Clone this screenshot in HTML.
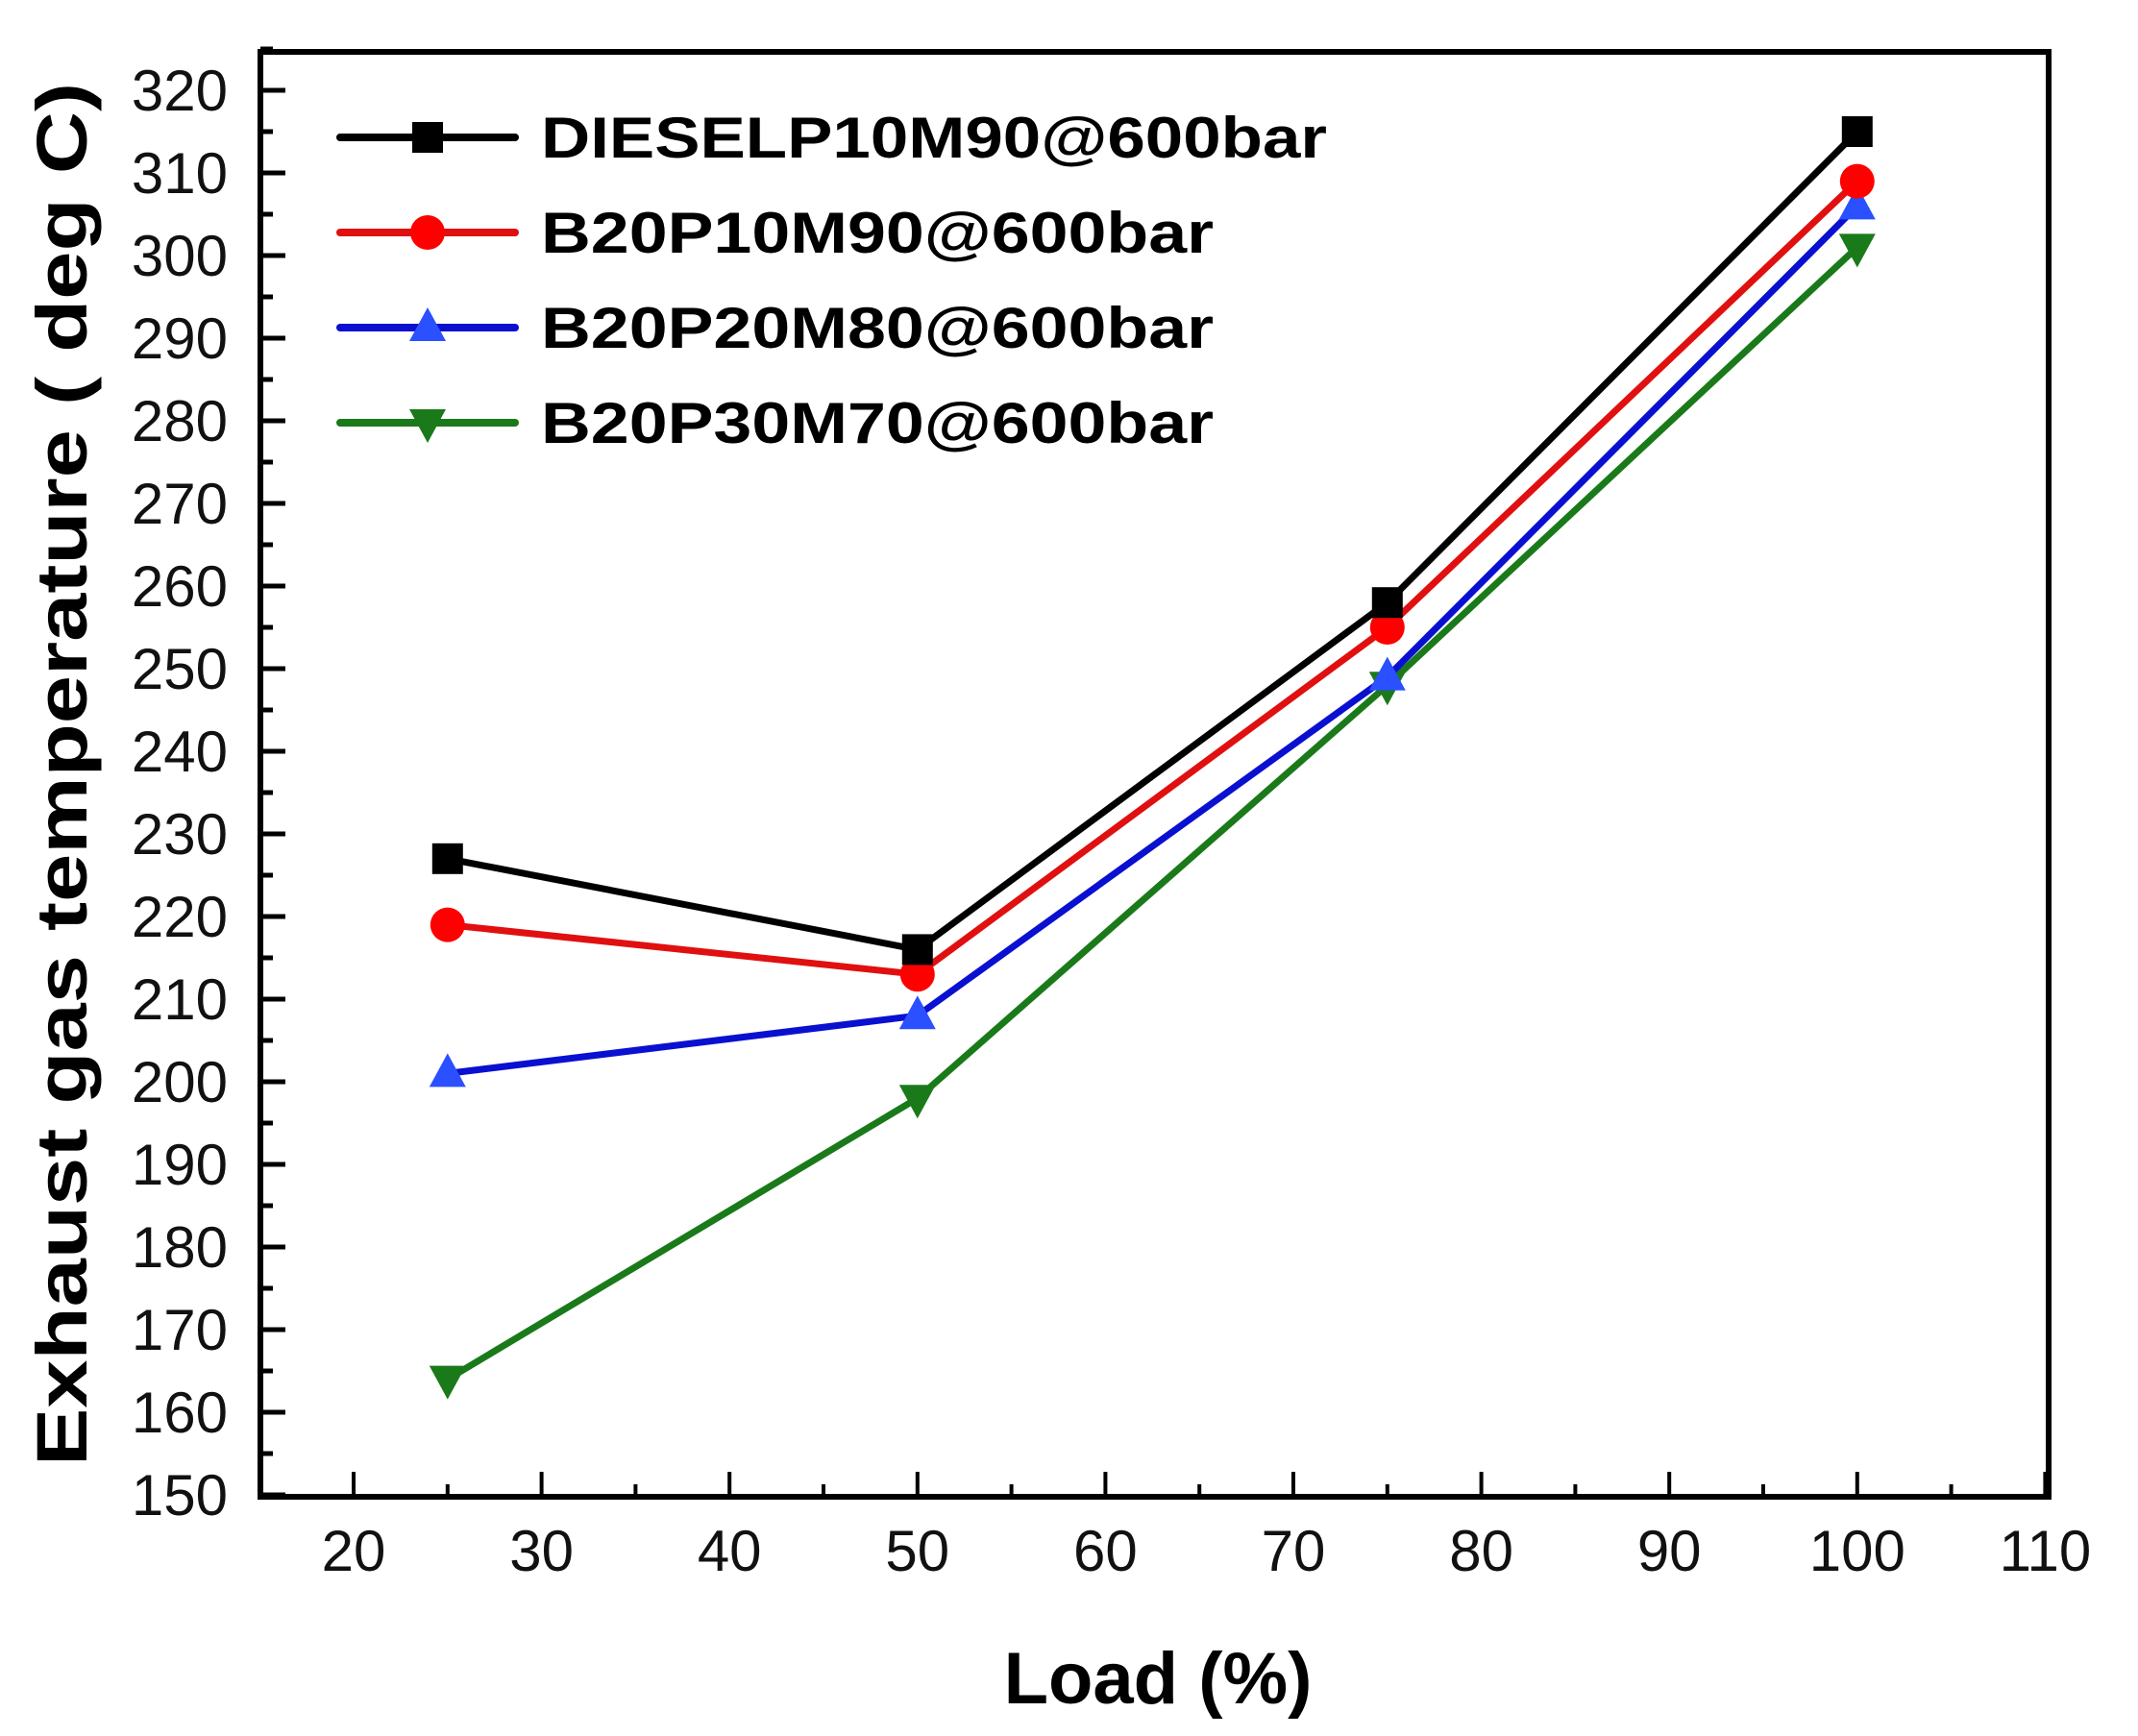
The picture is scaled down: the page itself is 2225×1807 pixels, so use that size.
<!DOCTYPE html>
<html><head><meta charset="utf-8"><style>
html,body{margin:0;padding:0;background:#fff}
svg{display:block}
text{font-family:"Liberation Sans",Arial,sans-serif}
</style></head><body>
<svg id="chart" width="2225" height="1807" viewBox="0 0 2225 1807" xmlns="http://www.w3.org/2000/svg">
</svg>
<script>
const categories = [25, 50, 75, 100];
const dieselValues = [227, 216, 258, 315];
const b20p10Values = [219, 213, 255, 309];
const b20p20Values = [201, 208, 249, 306];
const b20p30Values = [164, 198, 248, 301];
const seriesNames = ["DIESELP10M90@600bar","B20P10M90@600bar","B20P20M80@600bar","B20P30M70@600bar"];
const xTickLabels = [20,30,40,50,60,70,80,90,100,110];
const yTickLabels = [150,160,170,180,190,200,210,220,230,240,250,260,270,280,290,300,310,320];

const NS="http://www.w3.org/2000/svg";
const svg=document.getElementById('chart');
const L=271,R=2132,T=54,B=1558;
const xs=v=>368+(v-20)*19.56;
const ys=v=>94+(320-v)*8.6;
function mk(tag,attrs,parent){const e=document.createElementNS(NS,tag);for(const k in attrs)e.setAttribute(k,attrs[k]);(parent||svg).appendChild(e);return e;}

const frame=mk('rect',{x:L,y:T,width:R-L,height:B-T,fill:'none',stroke:'#000','stroke-width':6});



for(let v=150;v<=325;v+=5){
  const major=v%10===0;
  const t=mk('line',{x1:L,x2:L+(major?26:13),y1:ys(v),y2:ys(v),stroke:'#000','stroke-width':5});
  
  
}
yTickLabels.forEach(v=>{
  const t=mk('text',{x:237,y:ys(v)+21,'text-anchor':'end','font-size':60,fill:'#111'});
  t.textContent=v;
  
  
});
for(let v=15;v<=110;v+=5){
  const major=v%10===0;
  const t=mk('line',{x1:xs(v),x2:xs(v),y1:B,y2:B-(major?26:13),stroke:'#000','stroke-width':4});
  
  
}
xTickLabels.forEach(v=>{
  const t=mk('text',{x:xs(v),y:1635,'text-anchor':'middle','font-size':60,fill:'#111'});
  t.textContent=v;
  
  
});
const xt=mk('text',{x:1205,y:1773,'text-anchor':'middle','font-size':76,'font-weight':'bold',fill:'#000'});
xt.textContent='Load (%)';


const yt=mk('text',{x:0,y:0,'text-anchor':'middle','font-size':74,'font-weight':'bold',fill:'#000',transform:'translate(90,806) rotate(-90)',textLength:1440,lengthAdjust:'spacingAndGlyphs'});
yt.textContent='Exhaust gas temperature ( deg C)';



function marker(type,cx,cy,color,parent){
  let m;
  if(type==='square') m=mk('rect',{x:cx-16,y:cy-16,width:32,height:32,fill:color},parent);
  else if(type==='circle') m=mk('circle',{cx:cx,cy:cy,r:18,fill:color},parent);
  else if(type==='up') m=mk('polygon',{points:`${cx},${cy-21} ${cx-19},${cy+14} ${cx+19},${cy+14}`,fill:color},parent);
  else m=mk('polygon',{points:`${cx},${cy+21} ${cx-19},${cy-14} ${cx+19},${cy-14}`,fill:color},parent);
  return m;
}
const series=[
 {vals:dieselValues,color:'#000000',mcolor:'#000000',m:'square',key:'diesel'},
 {vals:b20p10Values,color:'#e01010',mcolor:'#ff0000',m:'circle',key:'b20p10m90'},
 {vals:b20p20Values,color:'#0a10d0',mcolor:'#2a50ff',m:'up',key:'b20p20m80'},
 {vals:b20p30Values,color:'#1a7a1a',mcolor:'#1a7a1a',m:'down',key:'b20p30m70'}
];
series.slice().reverse().forEach(s=>{
  const g=mk('g',{});
  
  
  const pts=categories.map((c,i)=>xs(c)+','+ys(s.vals[i])).join(' ');
  const pl=mk('polyline',{points:pts,fill:'none',stroke:s.color,'stroke-width':7,'stroke-linejoin':'round'},g);
  
  
  categories.forEach((c,i)=>{
    const m=marker(s.m,xs(c),ys(s.vals[i]),s.mcolor,g);
    
    
  });
});
const legendY=[143,242,341,440];
const legendW=[818,700,700,700];
series.forEach((s,i)=>{
  const g=mk('g',{});
  
  
  mk('line',{x1:354,x2:536,y1:legendY[i],y2:legendY[i],stroke:s.color,'stroke-width':8,'stroke-linecap':'round'},g);
  marker(s.m,445,legendY[i],s.mcolor,g);
  const t=mk('text',{x:563,y:legendY[i]+21,'font-size':60,'font-weight':'bold',fill:'#000',textLength:legendW[i],lengthAdjust:'spacingAndGlyphs'},g);
  t.textContent=seriesNames[i];
});
</script>
</body></html>
